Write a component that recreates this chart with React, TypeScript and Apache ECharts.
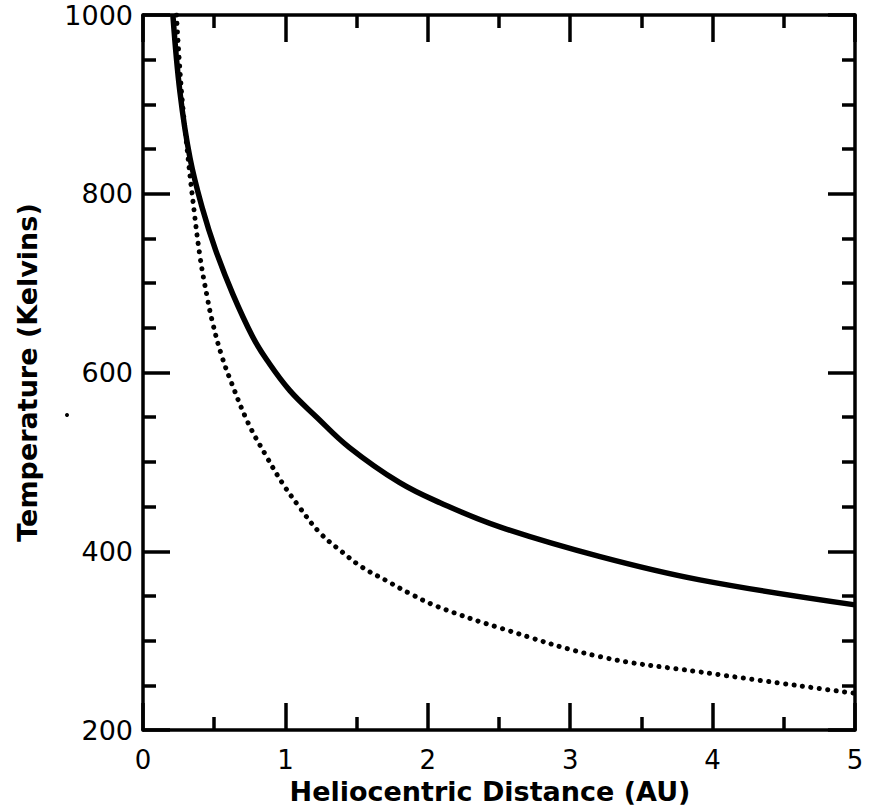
import React, { useEffect, useRef } from "react";
import * as echarts from "echarts";

const solidDistance = [0.21, 0.26, 0.33, 0.42, 0.51, 0.63, 0.77, 0.87, 1.03, 1.22, 1.45, 1.8, 2.09, 2.51, 3.21, 3.91, 5.0];
const solidTemperature = [1000, 913, 840, 782, 737, 688, 640, 614, 580, 550, 516, 477, 454, 427, 394, 368, 340];

const dottedDistance = [0.235, 0.27, 0.31, 0.35, 0.4, 0.45, 0.49, 0.55, 0.62, 0.74, 0.86, 0.98, 1.1, 1.24, 1.4, 1.54, 1.71, 1.87, 2.07, 2.51, 3.21, 3.91, 5.0];
const dottedTemperature = [1000, 915, 850, 793, 730, 685, 655, 620, 589, 543, 508, 476, 449, 421, 399, 382, 367, 353, 338, 314, 282, 265, 241];

const xTicks = [0, 1, 2, 3, 4, 5];
const yTicks = [200, 400, 600, 800, 1000];

const FONT = "DejaVu Sans";

export default function App() {
  const ref = useRef<HTMLDivElement>(null);
  useEffect(() => {
    if (!ref.current) return;
    const chart = echarts.init(ref.current, null, { renderer: "svg" });
    const mk = (minorSplit: number) => ({
      axisLine: { show: true, onZero: false, lineStyle: { color: "#000", width: 3.5 } },
      splitLine: { show: false },
      axisTick: { show: true, inside: true, length: 27, lineStyle: { color: "#000", width: 3.5 } },
      minorTick: { show: true, splitNumber: minorSplit, length: 13, lineStyle: { color: "#000", width: 3.5 } },
    });
    const xMin = xTicks[0];
    const xMax = xTicks[xTicks.length - 1];
    const yMin = yTicks[0];
    const yMax = yTicks[yTicks.length - 1];
    chart.setOption({
      animation: false,
      grid: { left: 143, right: 14, top: 15, bottom: 80 },
      xAxis: [
        {
          type: "value",
          min: xMin,
          max: xMax,
          interval: 1,
          position: "bottom",
          ...mk(2),
          name: "Heliocentric Distance (AU)",
          nameLocation: "middle",
          nameGap: 47,
          nameTextStyle: {
            fontFamily: FONT,
            fontSize: 27,
            color: "#000",
            fontWeight: "bold",
            padding: [0, 18, 0, 0],
          },
          axisLabel: {
            show: true,
            margin: 17,
            fontFamily: FONT,
            fontSize: 26,
            color: "#000",
            formatter: (v: number) => String(v),
          },
        },
        { type: "value", min: xMin, max: xMax, interval: 1, position: "top", ...mk(2), axisLabel: { show: false } },
      ],
      yAxis: [
        {
          type: "value",
          min: yMin,
          max: yMax,
          interval: 200,
          position: "left",
          ...mk(4),
          name: "Temperature (Kelvins)",
          nameLocation: "middle",
          nameGap: 102,
          nameRotate: 90,
          nameTextStyle: { fontFamily: FONT, fontSize: 27, color: "#000", fontWeight: "bold" },
          axisLabel: {
            show: true,
            margin: 10,
            fontFamily: FONT,
            fontSize: 27,
            color: "#000",
            formatter: (v: number) => String(v),
          },
        },
        { type: "value", min: yMin, max: yMax, interval: 200, position: "right", ...mk(4), axisLabel: { show: false } },
      ],
      graphic: [
        { type: "circle", shape: { cx: 67, cy: 415, r: 2 }, style: { fill: "#000" } },
      ],
      series: [
        {
          type: "line",
          name: "solid",
          data: solidDistance.map((d, i) => [d, solidTemperature[i]]),
          showSymbol: false,
          smooth: 0.4,
          lineStyle: { color: "#000", width: 5.5 },
          silent: true,
        },
        {
          type: "line",
          name: "dotted",
          data: dottedDistance.map((d, i) => [d, dottedTemperature[i]]),
          showSymbol: false,
          smooth: 0.4,
          lineStyle: { color: "#000", width: 5, type: [0.1, 8.4], cap: "round" },
          silent: true,
        },
      ],
    });
    return () => chart.dispose();
  }, []);
  return (
    <div
      ref={ref}
      style={{ position: "fixed", left: 0, top: 0, width: 869, height: 810, background: "#fff" }}
    />
  );
}
